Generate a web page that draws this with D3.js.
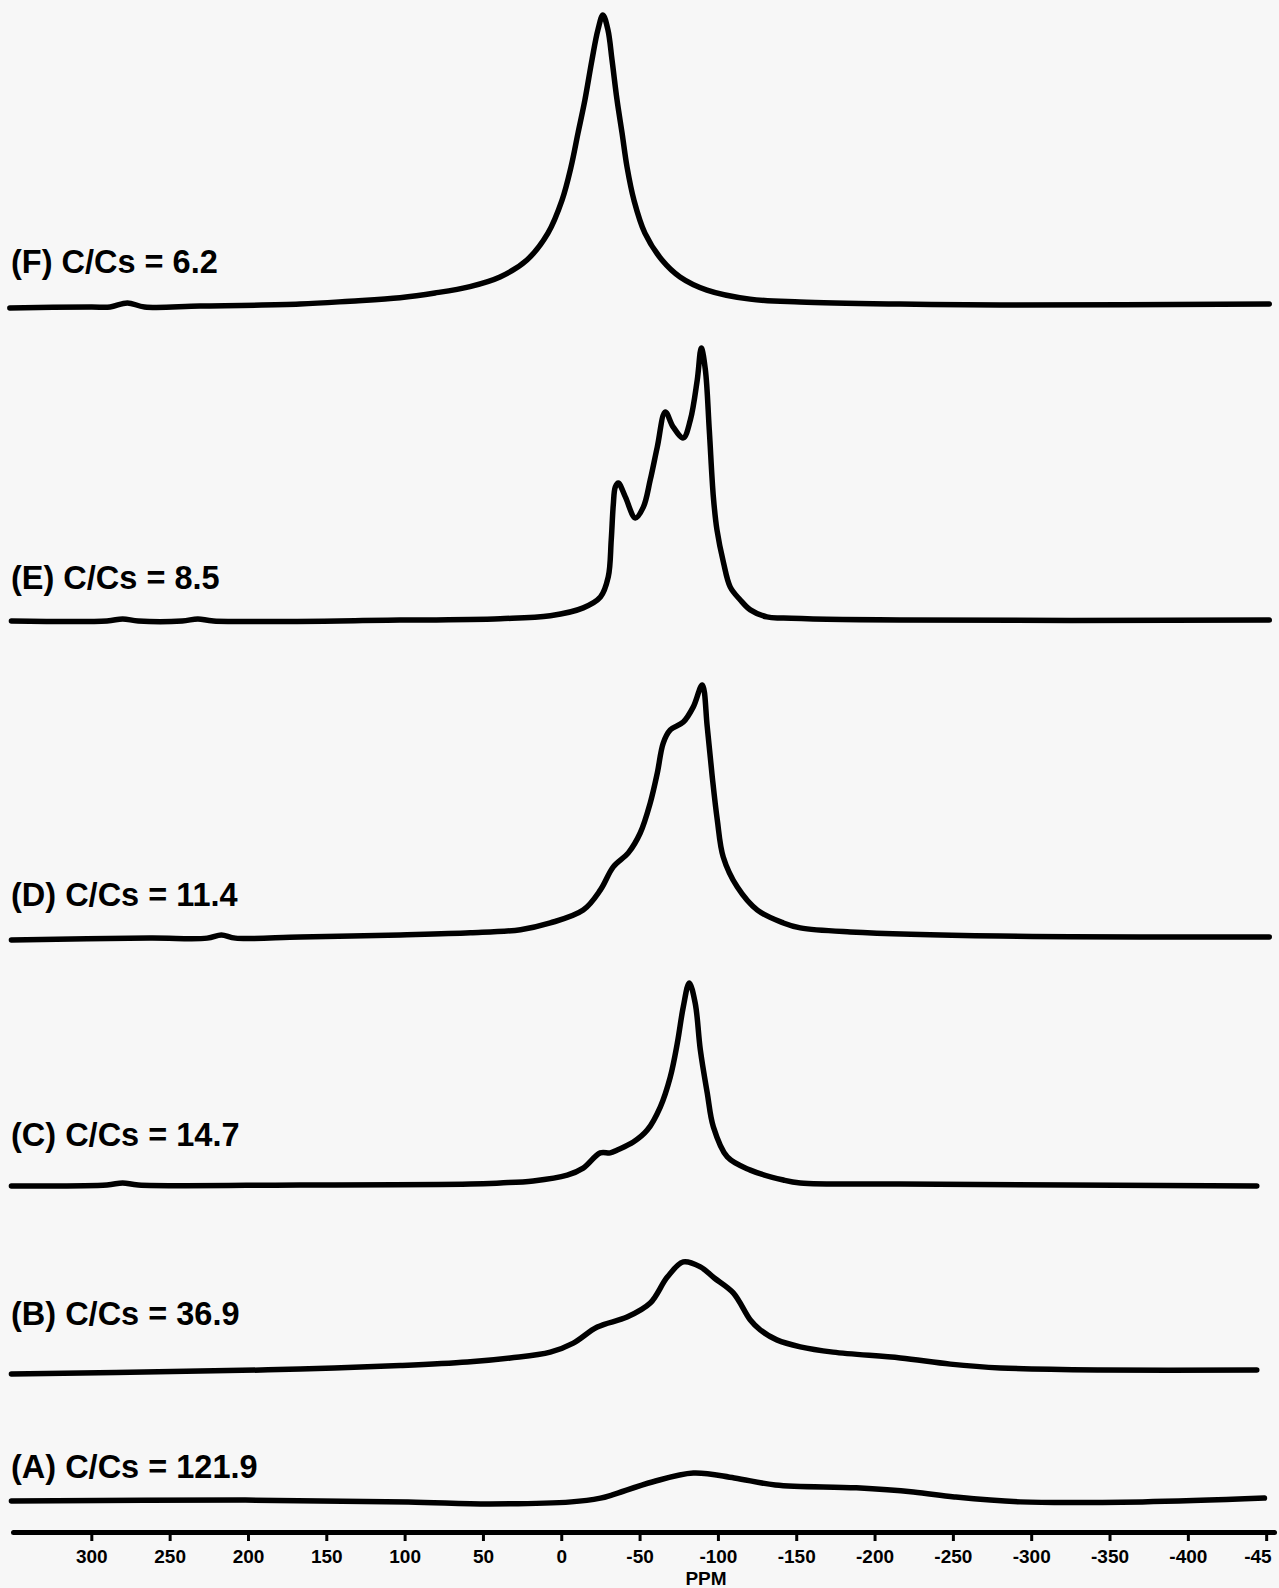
<!DOCTYPE html>
<html>
<head>
<meta charset="utf-8">
<script src="https://cdn.jsdelivr.net/npm/d3@7"></script>
<style>
  html, body { margin: 0; padding: 0; background: #f7f7f7; }
  svg { display: block; }
  text { font-family: "Liberation Sans", Arial, sans-serif; font-weight: bold; fill: #000; }
</style>
</head>
<body>
<div id="chart"></div>
<script>
// spectra: [ppm, intensity], intensity relative to F peak = 100
var specF = [[352,-0.3],[300,0],[288,0],[277,1.4],[266,0],[230.6,0.3],[166.8,1.0],[134.9,2.0],[103,3.2],
  [80.6,4.8],[58.3,7.0],[39.1,10.3],[21.9,16.1],[8.5,25.3],[-0.5,36.6],[-6.2,47.9],[-10.7,59.6],[-15.1,70.9],
  [-19.6,84.6],[-23.4,94.9],[-26.6,100],[-29.8,94.9],[-32.4,84.6],[-35.6,70.9],[-38.8,59.6],[-42,47.9],
  [-46.4,36.6],[-53.4,25.3],[-64.3,16.1],[-75.8,10.3],[-93,5.8],[-120.5,2.7],[-152.4,1.7],[-216.2,1.0],
  [-280,0.7],[-452,1.0]];

var specE = [[351,0],[290,0],[280,0.7],[270,0],[242,0],[232,0.7],[222,0],[103,0.3],[39,0.8],[7,1.8],
  [-14,4.5],[-25,8.2],[-30,15.1],[-31.9,27.7],[-33.2,39.7],[-34.5,45.9],[-36.4,47.3],[-40.9,42.5],
  [-47.3,35.3],[-52.4,39.0],[-56.8,48.3],[-61.3,59.6],[-66.4,71.6],[-71.5,66.4],[-77.9,62.7],[-82.4,68.8],
  [-86.8,82.5],[-89.4,93.5],[-92,86.0],[-94.5,65.4],[-97.1,42.5],[-99.4,31.2],[-103.6,19.9],[-107.9,11.6],
  [-114.3,7.2],[-120.7,3.8],[-131.3,1.4],[-141.8,1.0],[-216,0.3],[-452,0.3]];

var specD = [[351,-0.3],[262.5,0.3],[226,0.3],[217,1.4],[208,0.3],[166.7,0.7],[102.8,1.4],[58,2.1],[26,3.2],
  [7,5.5],[-14,9.9],[-25,16.8],[-33.2,24.7],[-42.8,29.5],[-50.4,36.3],[-56.8,46.6],[-61.3,56.8],[-65.1,67.1],
  [-69.6,71.6],[-77.9,74.3],[-84.3,79.5],[-90,87.0],[-93.2,72.6],[-96.4,55.5],[-99.6,40.8],[-103.4,28.1],
  [-112.4,17.8],[-125.2,9.9],[-141.8,5.5],[-152.6,3.8],[-184.5,2.4],[-280,1.0],[-452,0.7]];

var specC = [[351,-0.3],[290,0],[280,0.7],[270,0],[166.7,0],[58,0.3],[39,0.7],[17.9,1.4],[-3.8,3.4],[-14,5.8],
  [-24.9,11.0],[-31.3,11.0],[-35.8,12.0],[-46,14.7],[-54.9,18.8],[-63.2,26.7],[-69.6,37.0],[-74.1,48.6],
  [-77.9,61.0],[-81.7,69.2],[-85.5,62.3],[-88.8,46.2],[-93.2,31.5],[-97.1,19.9],[-106,9.6],[-120.7,5.1],
  [-141.8,1.7],[-152.6,0.7],[-216,0.3],[-444,-0.3]];

var specB = [[351,-0.7],[230.5,0.3],[166.7,1.0],[102.8,2.2],[60,3.4],[32.6,4.8],[7,6.8],[-7.7,9.9],[-23,15.4],
  [-42,18.8],[-56.8,23.6],[-67.7,32.5],[-77.9,37.7],[-88.8,36.0],[-97.7,32.2],[-109.8,27.1],[-120.7,17.8],
  [-127,14.4],[-137.6,11.0],[-152.6,8.6],[-173.5,6.8],[-216.5,4.8],[-248.4,2.7],[-280.3,1.4],[-344,0.7],[-444,0.7]];

var specA = [[351,0],[201.8,0.3],[97.7,-0.3],[46,-1.0],[-6.4,-0.3],[-25,1.0],[-32.6,2.1],[-58.1,6.5],
  [-84.3,9.6],[-110.5,7.9],[-136.7,5.5],[-188.4,4.5],[-224.8,3.1],[-251,1.4],[-293,-0.3],[-371,-0.3],[-448.9,1.0]];

var names   = ['(F) C/Cs = 6.2', '(E) C/Cs = 8.5', '(D) C/Cs = 11.4', '(C) C/Cs = 14.7', '(B) C/Cs = 36.9', '(A) C/Cs = 121.9'];
var spectra = [specF, specE, specD, specC, specB, specA];

var tickValues = [300, 250, 200, 150, 100, 50, 0, -50, -100, -150, -200, -250, -300, -350, -400, -450];
var tickLabels = ['300', '250', '200', '150', '100', '50', '0', '-50', '-100', '-150', '-200', '-250', '-300', '-350', '-400', '-45'];

// layout: baseline of each stacked trace and its label
var baselines = [307, 621, 939, 1185, 1372, 1501];
var labelY    = [273, 589, 906, 1146, 1325, 1478];

var width = 1279, height = 1588, axisY = 1532;

var svg = d3.select('#chart').append('svg')
    .attr('width', width)
    .attr('height', height);

svg.append('rect').attr('width', width).attr('height', height).attr('fill', '#f7f7f7');

var x = d3.scaleLinear().domain([350, -455]).range([13, 1274]);
var y = d3.scaleLinear().domain([0, 100]).range([0, 292]);

spectra.forEach(function(s, i) {
    var line = d3.line()
        .x(function(d) { return x(d[0]); })
        .y(function(d) { return baselines[i] - y(d[1]); })
        .curve(d3.curveCatmullRom.alpha(0.5));

    svg.append('path')
        .datum(s)
        .attr('d', line)
        .attr('fill', 'none')
        .attr('stroke', '#000')
        .attr('stroke-width', 5.5)
        .attr('stroke-linejoin', 'round')
        .attr('stroke-linecap', 'round');

    svg.append('text')
        .attr('x', 11)
        .attr('y', labelY[i])
        .style('font-size', '32.5px')
        .text(names[i]);
});

var axis = svg.append('g')
    .attr('transform', 'translate(0,' + axisY + ')')
    .call(d3.axisBottom(x).tickValues(tickValues).tickSize(9).tickSizeOuter(0).tickPadding(9)
        .tickFormat(function(d, i) { return tickLabels[i]; }));

axis.select('.domain').attr('stroke', '#000').attr('stroke-width', 5).attr('stroke-linecap', 'round');
axis.selectAll('.tick line').attr('stroke', '#000').attr('stroke-width', 3);
axis.selectAll('.tick text')
    .attr('font-family', null)
    .style('font-size', '19px')
    .style('fill', '#000');

// the scan is cropped on the right, last label only partly shows
axis.selectAll('.tick text').filter(function(d, i) { return i === tickValues.length - 1; })
    .attr('text-anchor', 'end')
    .attr('dx', 5);

svg.append('text')
    .attr('x', 706)
    .attr('y', 1585)
    .attr('text-anchor', 'middle')
    .style('font-size', '19px')
    .text('PPM');
</script>
</body>
</html>
